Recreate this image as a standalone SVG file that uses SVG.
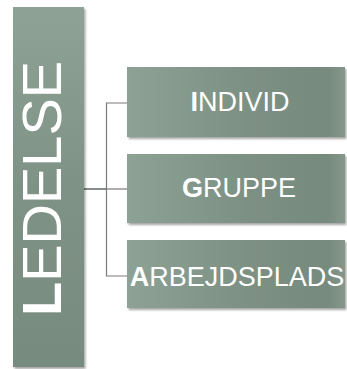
<svg xmlns="http://www.w3.org/2000/svg" width="347" height="369" viewBox="0 0 347 369">
  <defs>
    <linearGradient id="barFill" x1="0" y1="0" x2="0" y2="1">
      <stop offset="0" stop-color="#8fa296"/>
      <stop offset="0.5" stop-color="#7e9285"/>
      <stop offset="1" stop-color="#778b7e"/>
    </linearGradient>
    <linearGradient id="boxFill" x1="0" y1="0" x2="1" y2="0">
      <stop offset="0" stop-color="#8da295"/>
      <stop offset="0.55" stop-color="#7c9083"/>
      <stop offset="0.92" stop-color="#778a7e"/>
      <stop offset="1" stop-color="#849789"/>
    </linearGradient>
    <filter id="shadow" x="-5%" y="-5%" width="115%" height="120%">
      <feDropShadow dx="1.5" dy="2" stdDeviation="1.2" flood-color="#000" flood-opacity="0.35"/>
    </filter>
  </defs>
  <style>
    .lbl { font-family: "Liberation Sans", Arial, sans-serif; fill: #ffffff; }
    .box-lbl { font-size: 27px; text-anchor: middle; }
    .first { font-weight: bold; }
    .wire { fill: none; stroke: #7a7a7a; stroke-width: 1.2; }
    .stem { fill: none; stroke: #4f5c54; stroke-width: 1.4; }
  </style>
  <rect width="347" height="369" fill="#ffffff"/>

  <g id="connectors">
    <path class="stem" d="M84 189 H106.5"/>
    <path class="wire" d="M127 103 H106.5 V276 H127"/>
    <path class="wire" d="M106.5 189 H127"/>
  </g>

  <g id="ledelse">
    <rect x="13" y="7" width="71" height="360" fill="url(#barFill)" filter="url(#shadow)"/>
    <text class="lbl" font-size="56" transform="translate(61 316) rotate(-90)"><tspan class="first">L</tspan>EDELSE</text>
  </g>

  <g id="individ">
    <rect x="127" y="67" width="218" height="70" fill="url(#boxFill)" filter="url(#shadow)"/>
    <text class="lbl box-lbl" x="240" y="111"><tspan class="first">I</tspan>NDIVID</text>
  </g>

  <g id="gruppe">
    <rect x="127" y="154" width="218" height="69" fill="url(#boxFill)" filter="url(#shadow)"/>
    <text class="lbl box-lbl" x="239" y="197"><tspan class="first">G</tspan>RUPPE</text>
  </g>

  <g id="arbejdsplads">
    <rect x="127" y="240" width="218" height="68" fill="url(#boxFill)" filter="url(#shadow)"/>
    <text class="lbl box-lbl" x="237" y="286"><tspan class="first">A</tspan>RBEJDSPLADS</text>
  </g>
</svg>
